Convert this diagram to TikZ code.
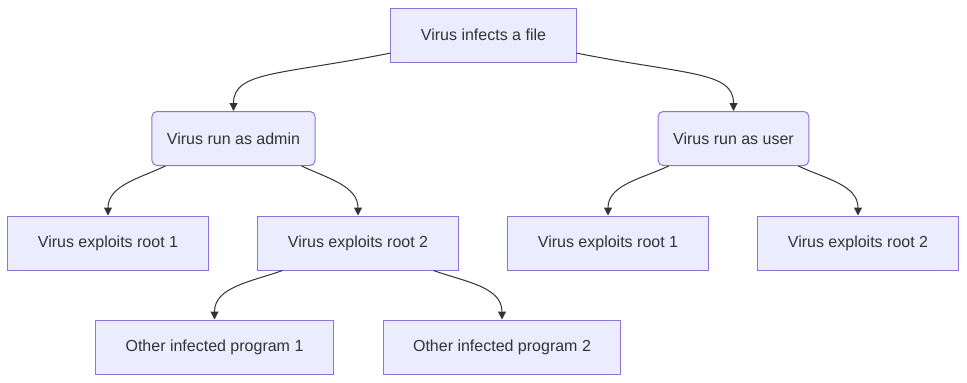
\documentclass[tikz,border=0pt]{standalone}
\usepackage{fontspec}
\setmainfont{Liberation Sans}
\usepackage{xcolor}
\usepackage{tikz}
\usetikzlibrary{arrows.meta, positioning}
\definecolor{MmdFill}{HTML}{ECECFF}
\definecolor{MmdLine}{HTML}{9370DB}
\definecolor{MmdText}{HTML}{333333}

\tikzset{
  box/.style={draw=MmdLine, fill=MmdFill, line width=0.75pt, text=MmdText,
    minimum height=40.5pt, inner xsep=22.5pt, inner ysep=0pt,
    font=\fontsize{12}{14}\selectfont},
  roundbox/.style={box, rounded corners=3.75pt, inner xsep=11.25pt},
  link/.style={draw=MmdText, line width=0.75pt,
    -{Triangle[length=6pt, width=6pt]}}
}

\begin{document}
\begin{tikzpicture}[x=0.75pt, y=-0.75pt]
  \useasboundingbox (0,0) rectangle (967,382);

  % nodes
  \node[box] (file) at (483.5,35) {Virus infects a file};
  \node[roundbox] (admin) at (233.5,138.5) {Virus run as admin};
  \node[roundbox] (user) at (733.5,138.5) {Virus run as user};
  \node[box] (adminroot1) at (108,243) {Virus exploits root 1};
  \node[box] (adminroot2) at (358,243) {Virus exploits root 2};
  \node[box] (userroot1) at (608,243) {Virus exploits root 1};
  \node[box] (userroot2) at (858,243) {Virus exploits root 2};
  \node[box] (prog1) at (214.5,347) {Other infected program 1};
  \node[box] (prog2) at (502,347) {Other infected program 2};

  % links
  \draw[link] (file.191) .. controls +(-110,22) and +(0,-40) .. (admin.north);
  \draw[link] (file.349) .. controls +(110,22) and +(0,-40) .. (user.north);
  \draw[link] (admin.202) to[out=205, in=90] (adminroot1.north);
  \draw[link] (admin.338) to[out=-25, in=90] (adminroot2.north);
  \draw[link] (user.203) to[out=205, in=90] (userroot1.north);
  \draw[link] (user.337) to[out=-25, in=90] (userroot2.north);
  \draw[link] (adminroot2.200) to[out=200, in=90] (prog1.north);
  \draw[link] (adminroot2.340) to[out=-20, in=90] (prog2.north);
\end{tikzpicture}
\end{document}
